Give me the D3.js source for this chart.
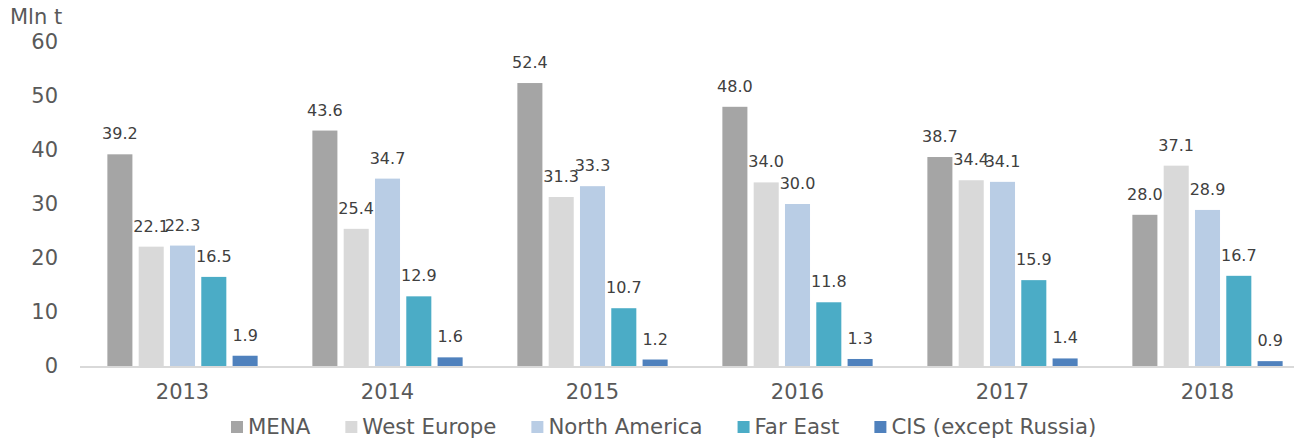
<!DOCTYPE html>
<html>
    <head>
        <meta charset="UTF-8">
        <title>Exports by region</title>
        <script src="https://cdn.jsdelivr.net/npm/d3@7" type="text/javascript"></script>
        <style>
            body { margin: 0; background: #fff; }
            svg text { font-family: 'DejaVu Sans', Verdana, sans-serif; }
            .axis path, .axis line { display: none; }
            .axis text { fill: #595959; font-size: 21px; }
        </style>
    </head>
    <body>
        <svg id="svg"></svg>
        <script>
            var WIDTH = 1294;
            var HEIGHT = 439;

            // Data
            var years = ['2013', '2014', '2015', '2016', '2017', '2018'];
            var regions = ['MENA', 'West Europe', 'North America', 'Far East', 'CIS (except Russia)'];
            var mena = [39.2, 43.6, 52.4, 48.0, 38.7, 28.0];
            var westEurope = [22.1, 25.4, 31.3, 34.0, 34.4, 37.1];
            var northAmerica = [22.3, 34.7, 33.3, 30.0, 34.1, 28.9];
            var farEast = [16.5, 12.9, 10.7, 11.8, 15.9, 16.7];
            var cis = [1.9, 1.6, 1.2, 1.3, 1.4, 0.9];
            var yTicks = [0, 10, 20, 30, 40, 50, 60];
            var colors = ['#a5a5a5', '#d9d9d9', '#b9cde5', '#4bacc6', '#4f81bd'];

            var series = [mena, westEurope, northAmerica, farEast, cis];

            var svg = d3.select('#svg')
                        .attr('width', WIDTH)
                        .attr('height', HEIGHT);

            var x0 = d3.scaleBand()
                       .domain(years)
                       .range([80, 1310])
                       .paddingInner(0.267)
                       .paddingOuter(0.1335);
            var x1 = d3.scaleBand()
                       .domain(regions)
                       .range([0, x0.bandwidth()])
                       .paddingInner(0.2);
            var yScale = d3.scaleLinear()
                           .domain([0, 60])
                           .range([366, 42]);

            // y axis labels
            var yAxis = d3.axisLeft(yScale).tickValues(yTicks).tickSize(0).tickPadding(0);
            svg.append('g')
               .attr('class', 'axis')
               .attr('transform', 'translate(58,0)')
               .call(yAxis);

            svg.append('text')
               .attr('x', 10)
               .attr('y', 24)
               .attr('font-size', 21)
               .attr('fill', '#595959')
               .text('Mln t');

            // bars
            var groups = svg.selectAll('g.year')
               .data(years)
               .enter()
               .append('g')
               .attr('class', 'year')
               .attr('transform', function(d){ return 'translate(' + x0(d) + ',0)'; });

            groups.selectAll('rect')
               .data(function(d, i){
                   return regions.map(function(r, j){ return {region: r, value: series[j][i], color: colors[j]}; });
               })
               .enter()
               .append('rect')
               .attr('x', function(d){ return x1(d.region); })
               .attr('y', function(d){ return yScale(d.value); })
               .attr('width', x1.bandwidth())
               .attr('height', function(d){ return yScale(0) - yScale(d.value); })
               .attr('fill', function(d){ return d.color; });

            groups.selectAll('text.lbl')
               .data(function(d, i){
                   return regions.map(function(r, j){ return {region: r, value: series[j][i]}; });
               })
               .enter()
               .append('text')
               .attr('class', 'lbl')
               .attr('x', function(d){ return x1(d.region) + x1.bandwidth() / 2; })
               .attr('y', function(d){ return yScale(d.value) - 15; })
               .attr('text-anchor', 'middle')
               .attr('font-size', 16)
               .attr('fill', '#404040')
               .text(function(d){ return d.value.toFixed(1); });

            // x axis line and labels
            svg.append('line')
               .attr('x1', 80).attr('x2', WIDTH)
               .attr('y1', yScale(0) + 1).attr('y2', yScale(0) + 1)
               .attr('stroke', '#d9d9d9')
               .attr('stroke-width', 2);

            var xAxis = d3.axisBottom(x0).tickSize(0).tickPadding(0);
            svg.append('g')
               .attr('class', 'axis')
               .attr('transform', 'translate(0,' + 384 + ')')
               .call(xAxis);

            // legend
            var legend = svg.append('g').attr('transform', 'translate(231,426)');
            var lx = 0;
            regions.forEach(function(r, j){
                legend.append('rect')
                      .attr('x', lx).attr('y', -5)
                      .attr('width', 12).attr('height', 12)
                      .attr('fill', colors[j]);
                var t = legend.append('text')
                      .attr('x', lx + 17)
                      .attr('y', 8)
                      .attr('font-size', 21.3)
                      .attr('fill', '#595959')
                      .text(r);
                lx += 17 + t.node().getComputedTextLength() + 35;
            });
        </script>
    </body>
</html>
